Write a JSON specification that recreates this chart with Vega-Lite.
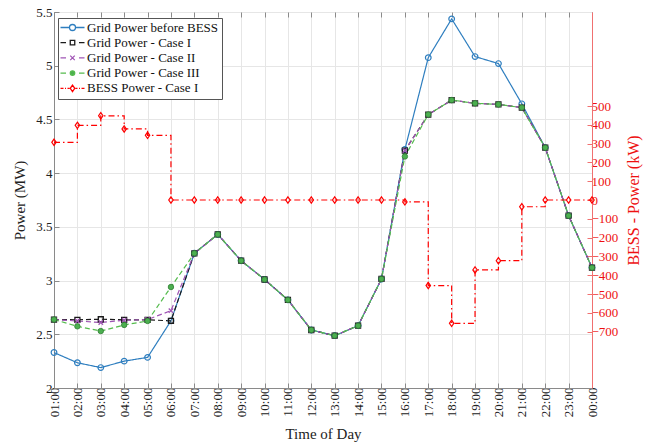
{
  "$schema": "https://vega.github.io/schema/vega-lite/v6.json",
  "width": 538,
  "height": 376,
  "autosize": {"type": "none"},
  "padding": {"left": 54, "top": 12, "right": 67, "bottom": 58},
  "background": "white",
  "config": {
    "font": "Liberation Serif",
    "view": {"stroke": "#9a9a9a", "strokeWidth": 1},
    "axis": {
      "labelFont": "Liberation Serif", "titleFont": "Liberation Serif",
      "labelFontSize": 13, "titleFontSize": 15, "titleFontWeight": "normal",
      "labelColor": "#222", "titleColor": "#222",
      "domainColor": "#8a8a8a", "tickColor": "#8a8a8a",
      "gridColor": "#e6e6e6", "gridWidth": 1, "tickSize": -5, "labelPadding": 4
    },
    "legend": {
      "labelFont": "Liberation Serif", "labelFontSize": 13, "labelColor": "#111",
      "strokeColor": "#555", "fillColor": "white", "padding": 3,
      "rowPadding": 1.2, "symbolOffset": 5, "labelOffset": 8, "symbolSize": 100,
      "symbolStrokeWidth": 1.3, "symbolOpacity": 1
    }
  },
  "datasets": {
    "grid": [
      {"t":"01:00","s":"Grid Power before BESS","p":2.33},{"t":"02:00","s":"Grid Power before BESS","p":2.235},{"t":"03:00","s":"Grid Power before BESS","p":2.19},{"t":"04:00","s":"Grid Power before BESS","p":2.25},{"t":"05:00","s":"Grid Power before BESS","p":2.285},{"t":"06:00","s":"Grid Power before BESS","p":2.625},{"t":"07:00","s":"Grid Power before BESS","p":3.254},{"t":"08:00","s":"Grid Power before BESS","p":3.43},{"t":"09:00","s":"Grid Power before BESS","p":3.185},{"t":"10:00","s":"Grid Power before BESS","p":3.01},{"t":"11:00","s":"Grid Power before BESS","p":2.82},{"t":"12:00","s":"Grid Power before BESS","p":2.54},{"t":"13:00","s":"Grid Power before BESS","p":2.487},{"t":"14:00","s":"Grid Power before BESS","p":2.58},{"t":"15:00","s":"Grid Power before BESS","p":3.015},{"t":"16:00","s":"Grid Power before BESS","p":4.22},{"t":"17:00","s":"Grid Power before BESS","p":5.075},{"t":"18:00","s":"Grid Power before BESS","p":5.436},{"t":"19:00","s":"Grid Power before BESS","p":5.085},{"t":"20:00","s":"Grid Power before BESS","p":5.02},{"t":"21:00","s":"Grid Power before BESS","p":4.645},{"t":"22:00","s":"Grid Power before BESS","p":4.237},{"t":"23:00","s":"Grid Power before BESS","p":3.604},{"t":"00:00","s":"Grid Power before BESS","p":3.12},
      {"t":"01:00","s":"Grid Power - Case I","p":2.637},{"t":"02:00","s":"Grid Power - Case I","p":2.635},{"t":"03:00","s":"Grid Power - Case I","p":2.64},{"t":"04:00","s":"Grid Power - Case I","p":2.635},{"t":"05:00","s":"Grid Power - Case I","p":2.635},{"t":"06:00","s":"Grid Power - Case I","p":2.625},{"t":"07:00","s":"Grid Power - Case I","p":3.254},{"t":"08:00","s":"Grid Power - Case I","p":3.43},{"t":"09:00","s":"Grid Power - Case I","p":3.185},{"t":"10:00","s":"Grid Power - Case I","p":3.01},{"t":"11:00","s":"Grid Power - Case I","p":2.82},{"t":"12:00","s":"Grid Power - Case I","p":2.54},{"t":"13:00","s":"Grid Power - Case I","p":2.487},{"t":"14:00","s":"Grid Power - Case I","p":2.58},{"t":"15:00","s":"Grid Power - Case I","p":3.015},{"t":"16:00","s":"Grid Power - Case I","p":4.21},{"t":"17:00","s":"Grid Power - Case I","p":4.545},{"t":"18:00","s":"Grid Power - Case I","p":4.68},{"t":"19:00","s":"Grid Power - Case I","p":4.65},{"t":"20:00","s":"Grid Power - Case I","p":4.64},{"t":"21:00","s":"Grid Power - Case I","p":4.61},{"t":"22:00","s":"Grid Power - Case I","p":4.237},{"t":"23:00","s":"Grid Power - Case I","p":3.604},{"t":"00:00","s":"Grid Power - Case I","p":3.12},
      {"t":"01:00","s":"Grid Power - Case II","p":2.637},{"t":"02:00","s":"Grid Power - Case II","p":2.624},{"t":"03:00","s":"Grid Power - Case II","p":2.61},{"t":"04:00","s":"Grid Power - Case II","p":2.63},{"t":"05:00","s":"Grid Power - Case II","p":2.637},{"t":"06:00","s":"Grid Power - Case II","p":2.72},{"t":"07:00","s":"Grid Power - Case II","p":3.254},{"t":"08:00","s":"Grid Power - Case II","p":3.43},{"t":"09:00","s":"Grid Power - Case II","p":3.185},{"t":"10:00","s":"Grid Power - Case II","p":3.01},{"t":"11:00","s":"Grid Power - Case II","p":2.82},{"t":"12:00","s":"Grid Power - Case II","p":2.54},{"t":"13:00","s":"Grid Power - Case II","p":2.487},{"t":"14:00","s":"Grid Power - Case II","p":2.58},{"t":"15:00","s":"Grid Power - Case II","p":3.015},{"t":"16:00","s":"Grid Power - Case II","p":4.21},{"t":"17:00","s":"Grid Power - Case II","p":4.545},{"t":"18:00","s":"Grid Power - Case II","p":4.68},{"t":"19:00","s":"Grid Power - Case II","p":4.65},{"t":"20:00","s":"Grid Power - Case II","p":4.64},{"t":"21:00","s":"Grid Power - Case II","p":4.61},{"t":"22:00","s":"Grid Power - Case II","p":4.237},{"t":"23:00","s":"Grid Power - Case II","p":3.604},{"t":"00:00","s":"Grid Power - Case II","p":3.12},
      {"t":"01:00","s":"Grid Power - Case III","p":2.637},{"t":"02:00","s":"Grid Power - Case III","p":2.574},{"t":"03:00","s":"Grid Power - Case III","p":2.53},{"t":"04:00","s":"Grid Power - Case III","p":2.587},{"t":"05:00","s":"Grid Power - Case III","p":2.624},{"t":"06:00","s":"Grid Power - Case III","p":2.94},{"t":"07:00","s":"Grid Power - Case III","p":3.254},{"t":"08:00","s":"Grid Power - Case III","p":3.43},{"t":"09:00","s":"Grid Power - Case III","p":3.185},{"t":"10:00","s":"Grid Power - Case III","p":3.01},{"t":"11:00","s":"Grid Power - Case III","p":2.82},{"t":"12:00","s":"Grid Power - Case III","p":2.54},{"t":"13:00","s":"Grid Power - Case III","p":2.487},{"t":"14:00","s":"Grid Power - Case III","p":2.58},{"t":"15:00","s":"Grid Power - Case III","p":3.015},{"t":"16:00","s":"Grid Power - Case III","p":4.155},{"t":"17:00","s":"Grid Power - Case III","p":4.545},{"t":"18:00","s":"Grid Power - Case III","p":4.68},{"t":"19:00","s":"Grid Power - Case III","p":4.65},{"t":"20:00","s":"Grid Power - Case III","p":4.64},{"t":"21:00","s":"Grid Power - Case III","p":4.61},{"t":"22:00","s":"Grid Power - Case III","p":4.237},{"t":"23:00","s":"Grid Power - Case III","p":3.604},{"t":"00:00","s":"Grid Power - Case III","p":3.12}
    ],
    "bess": [
      {"t":"01:00","b":307},{"t":"02:00","b":397},{"t":"03:00","b":448},{"t":"04:00","b":378},{"t":"05:00","b":344},{"t":"06:00","b":0},{"t":"07:00","b":0},{"t":"08:00","b":0},{"t":"09:00","b":0},{"t":"10:00","b":0},{"t":"11:00","b":0},{"t":"12:00","b":0},{"t":"13:00","b":0},{"t":"14:00","b":0},{"t":"15:00","b":0},{"t":"16:00","b":-10},{"t":"17:00","b":-455},{"t":"18:00","b":-656},{"t":"19:00","b":-372},{"t":"20:00","b":-323},{"t":"21:00","b":-36},{"t":"22:00","b":0},{"t":"23:00","b":0},{"t":"00:00","b":0}
    ],
    "legend": [
      {"s":"Grid Power before BESS"},{"s":"Grid Power - Case I"},{"s":"Grid Power - Case II"},{"s":"Grid Power - Case III"},{"s":"BESS Power - Case I"}
    ]
  },
  "layer": [
    {
      "data": {"name": "grid"},
      "encoding": {
        "x": {"field": "t", "type": "ordinal",
          "scale": {"type": "point", "padding": 0, "domain": ["01:00","02:00","03:00","04:00","05:00","06:00","07:00","08:00","09:00","10:00","11:00","12:00","13:00","14:00","15:00","16:00","17:00","18:00","19:00","20:00","21:00","22:00","23:00","00:00"]},
          "axis": {"title": "Time of Day", "labelAngle": -90, "grid": true, "titlePadding": 10, "labelFont": "Liberation Serif", "titleFont": "Liberation Serif"}},
        "y": {"field": "p", "type": "quantitative",
          "scale": {"domain": [2, 5.5], "zero": false, "nice": false},
          "axis": {"title": "Power (MW)", "values": [2, 2.5, 3, 3.5, 4, 4.5, 5, 5.5], "format": "~g", "grid": true, "labelPadding": 7, "titlePadding": 8, "labelFont": "Liberation Serif", "titleFont": "Liberation Serif"}}
      },
      "layer": [
        {
          "mark": {"type": "line", "strokeWidth": 1.2},
          "encoding": {
            "color": {"field": "s", "type": "nominal", "legend": null,
              "scale": {"domain": ["Grid Power before BESS","Grid Power - Case I","Grid Power - Case II","Grid Power - Case III"], "range": ["#2e7ebf","#1a1a1a","#a055b5","#55bb4d"]}},
            "strokeDash": {"field": "s", "type": "nominal", "legend": null,
              "scale": {"domain": ["Grid Power before BESS","Grid Power - Case I","Grid Power - Case II","Grid Power - Case III"], "range": [[1,0],[5,3],[5,3],[5,3]]}}
          }
        },
        {
          "transform": [{"filter": "datum.s === 'Grid Power before BESS'"}],
          "mark": {"type": "point", "shape": "circle", "filled": false, "color": "#2e7ebf", "size": 32, "strokeWidth": 1.2, "opacity": 1}
        },
        {
          "transform": [{"filter": "datum.s === 'Grid Power - Case I'"}],
          "mark": {"type": "point", "shape": "square", "filled": false, "color": "#1a1a1a", "size": 24, "strokeWidth": 1.4, "opacity": 1}
        },
        {
          "transform": [{"filter": "datum.s === 'Grid Power - Case II'"}],
          "mark": {"type": "point", "shape": "M-1,-1L1,1M-1,1L1,-1", "filled": false, "color": "#a055b5", "size": 20, "strokeWidth": 1.3, "opacity": 1}
        },
        {
          "transform": [{"filter": "datum.s === 'Grid Power - Case III'"}],
          "mark": {"type": "point", "shape": "circle", "filled": true, "fill": "#4caf50", "stroke": "#2e7d32", "strokeWidth": 0.8, "size": 30, "opacity": 1}
        },
        {
          "data": {"name": "legend"},
          "mark": {"type": "point", "opacity": 0},
          "encoding": {
            "x": {"datum": "01:00", "type": "ordinal"},
            "y": {"datum": 3, "type": "quantitative"},
            "stroke": {"field": "s", "type": "nominal",
              "scale": {"domain": ["Grid Power before BESS","Grid Power - Case I","Grid Power - Case II","Grid Power - Case III","BESS Power - Case I"], "range": ["#2e7ebf","#1a1a1a","#a055b5","#55bb4d","#ff0000"]},
              "legend": {"title": null, "orient": "none", "legendX": 4, "legendY": 6, "labelFont": "Liberation Serif"}},
            "shape": {"field": "s", "type": "nominal",
              "scale": {"domain": ["Grid Power before BESS","Grid Power - Case I","Grid Power - Case II","Grid Power - Case III","BESS Power - Case I"],
                "range": [
                  "M-2.4,0H-0.6M0.6,0H2.4M-0.6,0A0.6,0.6 0 1,0 0.6,0A0.6,0.6 0 1,0 -0.6,0Z",
                  "M-2.4,0H-1.3M1.3,0H2.4M-0.45,-0.45H0.45V0.45H-0.45Z",
                  "M-2.4,0H-1.3M1.3,0H2.4M-0.45,-0.45L0.45,0.45M-0.45,0.45L0.45,-0.45",
                  "M-2.4,0H-1.3M1.3,0H2.4M-0.45,0A0.45,0.45 0 1,0 0.45,0A0.45,0.45 0 1,0 -0.45,0Z",
                  "M-2.4,0H-1.8M-1.5,0H-1.3M-1.0,0H-0.6M0,-0.65L0.45,0L0,0.65L-0.45,0ZM0.6,0H1.0M1.3,0H1.5M1.8,0H2.4"
                ]},
              "legend": {"title": null, "orient": "none", "legendX": 4, "legendY": 6, "labelFont": "Liberation Serif"}},
            "fill": {"field": "s", "type": "nominal",
              "scale": {"domain": ["Grid Power before BESS","Grid Power - Case I","Grid Power - Case II","Grid Power - Case III","BESS Power - Case I"], "range": ["transparent","transparent","transparent","#4caf50","transparent"]},
              "legend": {"title": null, "orient": "none", "legendX": 4, "legendY": 6, "labelFont": "Liberation Serif"}}
          }
        }
      ]
    },
    {
      "data": {"name": "bess"},
      "encoding": {
        "x": {"field": "t", "type": "ordinal",
          "scale": {"type": "point", "padding": 0, "domain": ["01:00","02:00","03:00","04:00","05:00","06:00","07:00","08:00","09:00","10:00","11:00","12:00","13:00","14:00","15:00","16:00","17:00","18:00","19:00","20:00","21:00","22:00","23:00","00:00"]},
          "axis": {"orient": "top", "labels": false, "title": null, "domain": false, "grid": false, "ticks": true}},
        "y": {"field": "b", "type": "quantitative",
          "scale": {"domain": [-1000, 1000], "zero": false, "nice": false},
          "axis": {"orient": "right", "title": "BESS - Power (kW)", "titleAngle": 270, "titleFontSize": 16, "values": [-700,-600,-500,-400,-300,-200,-100,0,100,200,300,400,500],
            "grid": false, "labelColor": "#ee1111", "titleColor": "#ee1111", "domainColor": "#f07070", "tickColor": "#f07070", "titlePadding": 24, "labelFont": "Liberation Serif", "titleFont": "Liberation Serif"}}
      },
      "layer": [
        {"mark": {"type": "line", "interpolate": "step-after", "color": "#ff0000", "strokeWidth": 1.2, "strokeDash": [6, 3, 1.5, 3]}},
        {"mark": {"type": "point", "shape": "M0,-1L0.7,0L0,1L-0.7,0Z", "filled": false, "color": "#ff0000", "size": 40, "strokeWidth": 1.2, "opacity": 1}}
      ]
    }
  ],
  "resolve": {"scale": {"y": "independent"}, "axis": {"y": "independent", "x": "independent"}}
}
